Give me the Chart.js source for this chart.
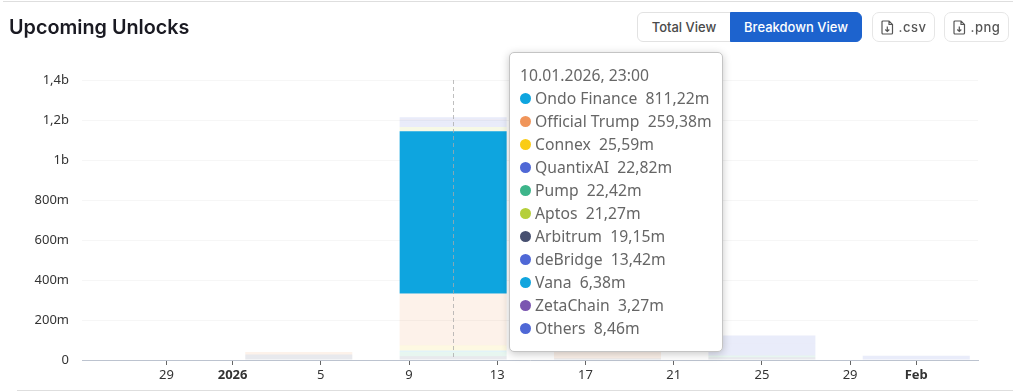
<!DOCTYPE html>
<html>
<head>
<meta charset="utf-8">
<title>Upcoming Unlocks</title>
<script src="https://cdn.jsdelivr.net/npm/chart.js@4"></script>
<style>
  html, body { margin: 0; padding: 0; background: #fff; overflow: hidden; }
  body { position: relative; width: 1013px; height: 392px; font-family: "Noto Sans", sans-serif; }
  #myChart { position: absolute; left: 0; top: 0; }
  .frameTop { position: absolute; left: 3px; right: 0; top: 1px; height: 1px; background: #dedede; }
  .frameBottom { position: absolute; left: 17px; right: 0; top: 390px; height: 1px; background: #dedede; }
  h1 { position: absolute; left: 9px; top: 14px; margin: 0; font: 600 19.8px/26px Inter, sans-serif; color: #1a1a22; }
  .btn { position: absolute; top: 12px; height: 30px; box-sizing: border-box; font: 500 13px/28px Inter, sans-serif; text-align: center; }
  .total { left: 637px; width: 94px; border: 1px solid #e2e2e2; border-radius: 6px 0 0 6px; color: #4a4a4a; background: #fff; }
  .breakdown { left: 730px; width: 132px; border: 1px solid #1d63ce; border-radius: 0 6px 6px 0; color: #fff; background: #1d63ce; }
  .file { border: 1px solid #e6e6e6; border-radius: 7px; color: #555; letter-spacing: .5px; display: flex; align-items: center; justify-content: center; gap: 5px; }
  .csv { left: 872px; width: 63px; }
  .png { left: 944px; width: 65px; }
  #tip { position: absolute; left: 509px; top: 52px; width: 214px; height: 300px; box-sizing: border-box; background: #fff;
         border: 1px solid #c4c4c4; border-radius: 5px; box-shadow: 0 2px 8px rgba(0,0,0,.22); color: #666; font-size: 15.7px; letter-spacing: .03px; line-height: 23px; padding: 11px 0 0 10px; white-space: pre; }
  #tip .row { display: flex; align-items: center; }
  #tip .dot { width: 11px; height: 11px; border-radius: 50%; margin-right: 4px; flex: none; }
</style>
</head>
<body>
<canvas id="myChart" width="1013" height="392"></canvas>
<div class="frameTop"></div>
<div class="frameBottom"></div>
<h1>Upcoming Unlocks</h1>
<div class="btn total">Total View</div>
<div class="btn breakdown">Breakdown View</div>
<div class="btn file csv"><svg width="13" height="15" viewBox="0 0 13 15" fill="none" stroke="#555" stroke-width="1.2"><path d="M2 1h6l3.500 3.500V13a1 1 0 0 1-1 1H2a1 1 0 0 1-1-1V2a1 1 0 0 1 1-1zM8 1v3.500h3.500M6.300 6.500v5M4.300 9.500l2 2 2-2"/></svg>.csv</div>
<div class="btn file png"><svg width="13" height="15" viewBox="0 0 13 15" fill="none" stroke="#555" stroke-width="1.2"><path d="M2 1h6l3.500 3.500V13a1 1 0 0 1-1 1H2a1 1 0 0 1-1-1V2a1 1 0 0 1 1-1zM8 1v3.500h3.500M6.300 6.500v5M4.300 9.500l2 2 2-2"/></svg>.png</div>
<div id="tip"></div>

<script>
// Days counted from 1 Jan 2026
const weekDays = [3, 10, 17, 24, 31];
const tickDays = [-3, 0, 4, 8, 12, 16, 20, 24, 28, 31];
const tickLabels = ["29", "2026", "5", "9", "13", "17", "21", "25", "29", "Feb"];
const boldTicks = ["2026", "Feb"];

// Unlocks per week, in millions (second column comes from the tooltip)
const arbitrum = [28, 19.15, 8, 14, 0];
const pump = [0, 22.42, 0, 8, 0];
const vana = [0, 6.38, 0, 0, 0];
const connex = [0, 25.59, 0, 0, 0];
const officialTrump = [12, 259.38, 32, 0, 0];
const ondoFinance = [0, 811.22, 0, 0, 0];
const aptos = [0, 21.27, 0, 0, 0];
const quantixAI = [0, 22.82, 0, 60, 0];
const deBridge = [0, 13.42, 0, 0, 0];
const zetaChain = [0, 3.27, 0, 0, 0];
const others = [0, 8.46, 0, 40, 21];

const tooltipTitle = "10.01.2026, 23:00";
const tooltipOrder = ["Ondo Finance", "Official Trump", "Connex", "QuantixAI", "Pump", "Aptos", "Arbitrum", "deBridge", "Vana", "ZetaChain", "Others"];
const hoverDay = 10;

// Stacked bottom to top
const series = [
  { label: "Arbitrum", data: arbitrum, color: "#475070" },
  { label: "Pump", data: pump, color: "#3DB58A" },
  { label: "Vana", data: vana, color: "#11A5DE" },
  { label: "Connex", data: connex, color: "#FACC15" },
  { label: "Official Trump", data: officialTrump, color: "#F0955A" },
  { label: "Ondo Finance", data: ondoFinance, color: "#0EA5DF" },
  { label: "Aptos", data: aptos, color: "#B5CF3A" },
  { label: "QuantixAI", data: quantixAI, color: "#4F68D6" },
  { label: "deBridge", data: deBridge, color: "#4F68D6" },
  { label: "ZetaChain", data: zetaChain, color: "#7B55B0" },
  { label: "Others", data: others, color: "#4F68D6" },
];

// Only the hovered series keeps its full colour, the rest fade out
const datasets = series.map((s) => ({
  label: s.label,
  data: s.data.map((v, i) => ({ x: weekDays[i], y: v })),
  backgroundColor: s.label === "Ondo Finance" ? s.color : s.color + "20",
  solidColor: s.color,
  barThickness: 107,
  inflateAmount: 0,
  stack: "unlocks",
}));

function formatValue(v) {
  if (v === 0) return "0";
  if (v >= 1000) return String(v / 1000).replace(".", ",") + "b";
  return v + "m";
}

// Vertical dashed line at the hovered date
const crosshair = {
  id: "crosshair",
  afterDatasetsDraw(chart) {
    const x = chart.scales.x.getPixelForValue(hoverDay);
    const { top, bottom } = chart.chartArea;
    const c = chart.ctx;
    c.save();
    c.strokeStyle = "rgba(170,170,170,.75)";
    c.lineWidth = 1;
    c.setLineDash([4, 3]);
    c.beginPath();
    c.moveTo(Math.round(x) + 0.5, top);
    c.lineTo(Math.round(x) + 0.5, bottom);
    c.stroke();
    c.restore();
  },
};

function drawTooltip(context) {
  const tooltip = context.tooltip;
  const tip = document.getElementById("tip");
  tip.innerHTML = "";
  const title = document.createElement("div");
  title.textContent = tooltip.title[0];
  tip.appendChild(title);
  tooltip.dataPoints.forEach((point) => {
    const row = document.createElement("div");
    row.className = "row";
    const dot = document.createElement("span");
    dot.className = "dot";
    dot.style.background = point.dataset.solidColor;
    row.appendChild(dot);
    row.appendChild(document.createTextNode(point.dataset.label + "  " + point.raw.y.toFixed(2).replace(".", ",") + "m"));
    tip.appendChild(row);
  });
}

function tickFont(c) {
  const bold = c.tick && boldTicks.includes(c.tick.label);
  return { family: "Noto Sans", size: 13, weight: bold ? "bold" : "normal" };
}

const ctx = document.getElementById("myChart");
const myChart = new Chart(ctx, {
  type: "bar",
  data: { datasets: datasets },
  plugins: [crosshair],
  options: {
    responsive: false,
    animation: false,
    events: [],
    layout: { padding: { top: 80, right: 35, left: 0, bottom: 0 } },
    plugins: {
      legend: { display: false },
      tooltip: {
        enabled: false,
        external: drawTooltip,
        mode: "index",
        callbacks: { title: () => tooltipTitle },
        itemSort: (a, b) => tooltipOrder.indexOf(a.dataset.label) - tooltipOrder.indexOf(b.dataset.label),
      },
    },
    scales: {
      x: {
        type: "linear",
        stacked: true,
        offset: false,
        min: -6.83,
        max: 33.8,
        afterBuildTicks(scale) {
          scale.ticks = tickDays.map((value) => ({ value: value }));
        },
        afterFit(scale) {
          scale.height = 32;
        },
        border: { color: "#bcc3cf" },
        grid: { offset: false, drawOnChartArea: false, tickLength: 5, tickColor: "#666" },
        ticks: {
          autoSkip: false,
          maxRotation: 0,
          padding: 2,
          color: "#333",
          font: tickFont,
          callback: (value) => tickLabels[tickDays.indexOf(value)],
        },
      },
      y: {
        stacked: true,
        min: 0,
        max: 1400,
        afterFit(scale) {
          scale.width = 82;
        },
        border: { display: false },
        grid: { color: "#f6f6f6", drawTicks: false },
        ticks: {
          stepSize: 200,
          padding: 13,
          color: "#333",
          font: { family: "Noto Sans", size: 13 },
          callback: formatValue,
        },
      },
    },
  },
});

// Keep the tooltip open on the second week, like the reference
myChart.tooltip.setActiveElements(
  datasets.map((d, i) => ({ datasetIndex: i, index: weekDays.indexOf(hoverDay) })),
  { x: 453, y: 200 }
);
myChart.update();
</script>
</body>
</html>
